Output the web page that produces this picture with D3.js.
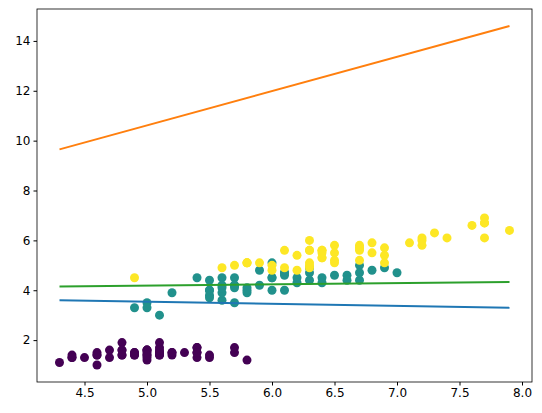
<!DOCTYPE html><html><head><meta charset="utf-8"><script src="https://cdn.jsdelivr.net/npm/d3@7"></script>
<style>body{margin:0;background:#fff}</style></head><body><svg id="c" width="542" height="413"></svg>
<script>
const sepalLength=[5.1,4.9,4.7,4.6,5.0,5.4,4.6,5.0,4.4,4.9,5.4,4.8,4.8,4.3,5.8,5.7,5.4,5.1,5.7,5.1,5.4,5.1,4.6,5.1,4.8,5.0,5.0,5.2,5.2,4.7,4.8,5.4,5.2,5.5,4.9,5.0,5.5,4.9,4.4,5.1,5.0,4.5,4.4,5.0,5.1,4.8,5.1,4.6,5.3,5.0,
7.0,6.4,6.9,5.5,6.5,5.7,6.3,4.9,6.6,5.2,5.0,5.9,6.0,6.1,5.6,6.7,5.6,5.8,6.2,5.6,5.9,6.1,6.3,6.1,6.4,6.6,6.8,6.7,6.0,5.7,5.5,5.5,5.8,6.0,5.4,6.0,6.7,6.3,5.6,5.5,5.5,6.1,5.8,5.0,5.6,5.7,5.7,6.2,5.1,5.7,
6.3,5.8,7.1,6.3,6.5,7.6,4.9,7.3,6.7,7.2,6.5,6.4,6.8,5.7,5.8,6.4,6.5,7.7,7.7,6.0,6.9,5.6,7.7,6.3,6.7,7.2,6.2,6.1,6.4,7.2,7.4,7.9,6.4,6.3,6.1,7.7,6.3,6.4,6.0,6.9,6.7,6.9,5.8,6.8,6.7,6.7,6.3,6.5,6.2,5.9];
const petalLength=[1.4,1.4,1.3,1.5,1.4,1.7,1.4,1.5,1.4,1.5,1.5,1.6,1.4,1.1,1.2,1.5,1.3,1.4,1.7,1.5,1.7,1.5,1.0,1.7,1.9,1.6,1.6,1.5,1.4,1.6,1.6,1.5,1.5,1.4,1.5,1.2,1.3,1.4,1.3,1.5,1.3,1.3,1.3,1.6,1.9,1.4,1.6,1.4,1.5,1.4,
4.7,4.5,4.9,4.0,4.6,4.5,4.7,3.3,4.6,3.9,3.5,4.2,4.0,4.7,3.6,4.4,4.5,4.1,4.5,3.9,4.8,4.0,4.9,4.7,4.3,4.4,4.8,5.0,4.5,3.5,3.8,3.7,3.9,5.1,4.5,4.5,4.7,4.4,4.1,4.0,4.4,4.6,4.0,3.3,4.2,4.2,4.2,4.3,3.0,4.1,
6.0,5.1,5.9,5.6,5.8,6.6,4.5,6.3,5.8,6.1,5.1,5.3,5.5,5.0,5.1,5.3,5.5,6.7,6.9,5.0,5.7,4.9,6.7,4.9,5.7,6.0,4.8,4.9,5.6,5.8,6.1,6.4,5.6,5.1,5.6,6.1,5.6,5.5,4.8,5.4,5.6,5.1,5.1,5.9,5.7,5.2,5.0,5.2,5.4,5.1];
const species=[...Array(50).fill(0),...Array(50).fill(1),...Array(50).fill(2)];
const speciesColors=["#440154","#21918c","#fde725"];
const lineX=[4.3,7.9];
const lines=[{color:"#1f77b4",y:[3.6,3.3]},{color:"#ff7f0e",y:[9.65,14.6]},{color:"#2ca02c",y:[4.15,4.33]}];
const xTicks=[4.5,5.0,5.5,6.0,6.5,7.0,7.5,8.0], yTicks=[2,4,6,8,10,12,14];

const svg=d3.select("#c"), L=37,R=532,T=9,B=382;
const x=d3.scaleLinear().domain([4.12,8.08]).range([L,R]);
const y=d3.scaleLinear().domain([0.32,15.28]).range([B,T]);
svg.selectAll("circle.p").data(sepalLength).join("circle").attr("cx",d=>x(d)).attr("cy",(d,i)=>y(petalLength[i])).attr("r",4.5).attr("fill",(d,i)=>speciesColors[species[i]]);
// line order: blue, green drawn, orange
[lines[0],lines[1],lines[2]].forEach(l=>svg.append("line").attr("x1",x(lineX[0])).attr("x2",x(lineX[1])).attr("y1",y(l.y[0])).attr("y2",y(l.y[1])).attr("stroke",l.color).attr("stroke-width",2));
const ff="DejaVu Sans, sans-serif";
svg.append("g").attr("transform",`translate(0,${B})`).call(d3.axisBottom(x).tickValues(xTicks).tickFormat(d3.format(".1f")).tickSize(3.5).tickSizeOuter(0)).call(g=>{g.select(".domain").remove();g.selectAll("text").attr("font-family",ff).attr("font-size",12).attr("fill","#000");});
svg.append("g").attr("transform",`translate(${L},0)`).call(d3.axisLeft(y).tickValues(yTicks).tickSize(3.5).tickSizeOuter(0)).call(g=>{g.select(".domain").remove();g.selectAll("text").attr("font-family",ff).attr("font-size",12).attr("fill","#000");});
svg.append("rect").attr("x",L).attr("y",T).attr("width",R-L).attr("height",B-T).attr("fill","none").attr("stroke","#000").attr("stroke-width",0.8);
</script></body></html>
